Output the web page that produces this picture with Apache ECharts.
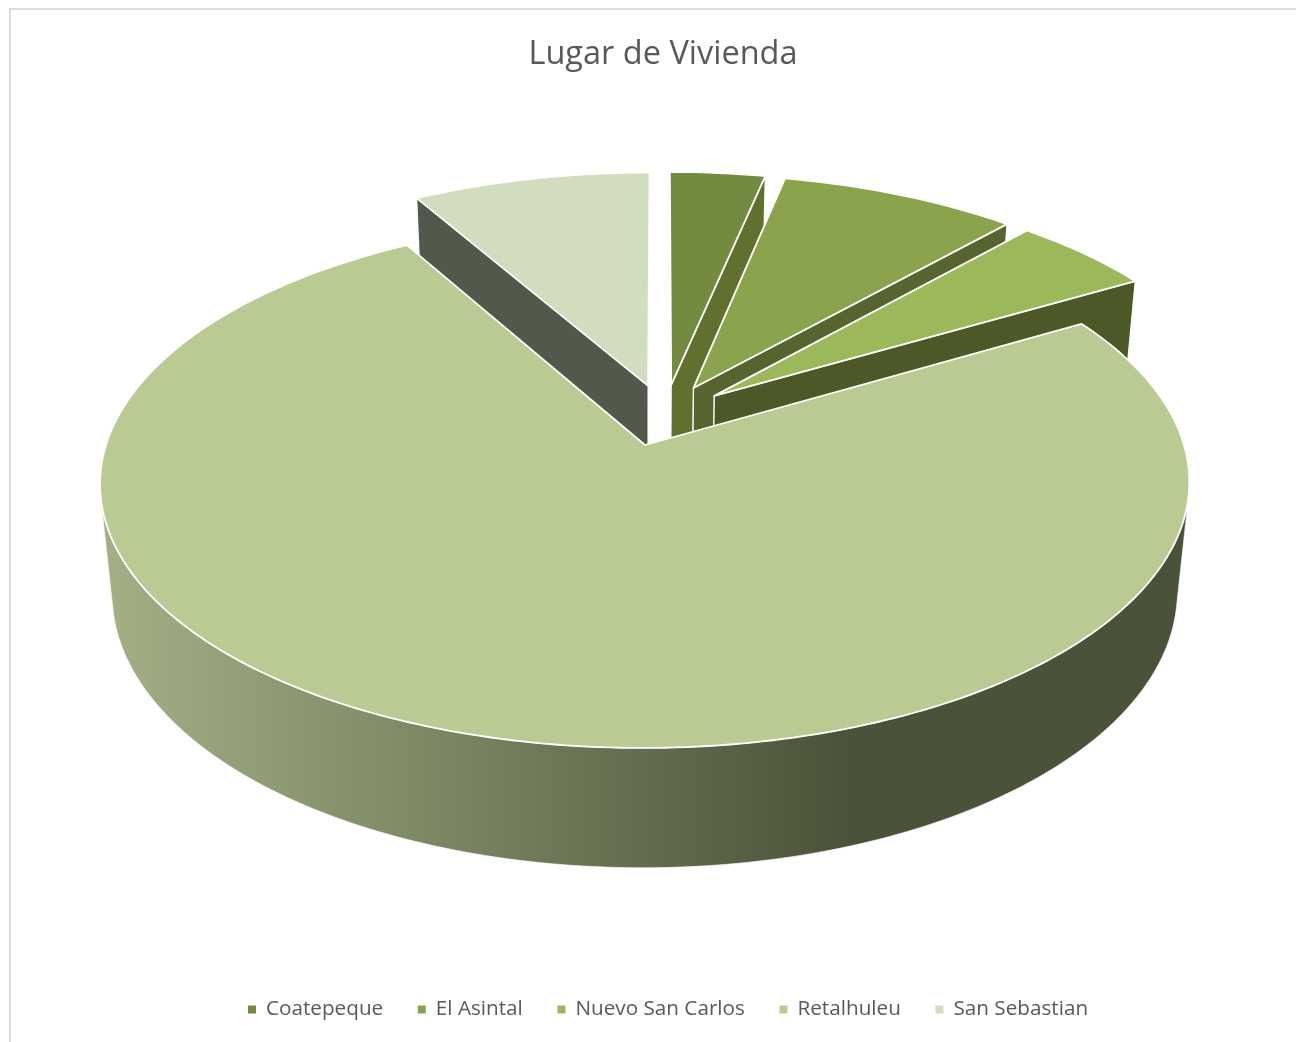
<!DOCTYPE html>
<html>
<head>
<meta charset="utf-8">
<style>html,body{margin:0;padding:0;background:#fff}#c{width:1296px;height:1042px}</style>
<script src="https://cdn.jsdelivr.net/npm/echarts@6/dist/echarts.min.js"></script>
</head>
<body>
<div id="c"></div>
<script>
const titleText = 'Lugar de Vivienda';
const categories = ['Coatepeque', 'El Asintal', 'Nuevo San Carlos', 'Retalhuleu', 'San Sebastian'];
const values = [4, 10, 6, 90, 10];
const topColors = ['#738b40', '#8aa44d', '#9bb95a', '#b9ca93', '#d2dcbe'];
const wallColors = ['#5f702f', '#56652f', '#4d5829', '#4a5239', '#52584a'];
const drawOrder = [3, 4, 5, 6, 2];

// Camera of the 3D pie (perspective projection of the pie's unit disc)
const cx = 645, cy = 445, Rx = 539, Ry = 259.5, kz = 0.1434, md = 0.0222, D = 112, shear = 0.004;
const explode = 0.122, smallSliceShift = 0.005;
const total = values.reduce((a, b) => a + b, 0);
const toRad = Math.PI / 180;

function project(x, z, d) {
  const w = 1 + kz * z + md * d;
  return [cx + Rx * (x + shear * z) / w, cy + (-Ry * z + D * d) / w];
}
// Explosion is measured from the pie's true centre; the largest slice's tip sits at (cx, cy)
const bigIdx = values.indexOf(Math.max(...values));
function midAngle(i) {
  let s = 0;
  for (let j = 0; j < i; j++) s += values[j];
  return (s + values[i] / 2) / total * 360;
}
const c0x = -explode * Math.sin(midAngle(bigIdx) * toRad);
const c0z = -explode * Math.cos(midAngle(bigIdx) * toRad);

function quadArea(q) {
  let s = 0;
  for (let i = 0; i < 4; i++) {
    const a = q[i], b = q[(i + 1) % 4];
    s += a[0] * b[1] - b[0] * a[1];
  }
  return s / 2;
}

function renderSlice(i, value) {
  let before = 0;
  for (let j = 0; j < i; j++) before += values[j];
  const a0 = before / total * 360;
  const a1 = (before + value) / total * 360;
  const mid = (a0 + a1) / 2;
  const ox = c0x + explode * Math.sin(mid * toRad) + (i === bigIdx ? 0 : smallSliceShift);
  const oz = c0z + explode * Math.cos(mid * toRad);
  const arc = (d) => {
    const pts = [];
    const n = Math.max(2, Math.ceil(a1 - a0));
    for (let t = 0; t <= n; t++) {
      const a = (a0 + (a1 - a0) * t / n) * toRad;
      pts.push(project(ox + Math.sin(a), oz + Math.cos(a), d));
    }
    return pts;
  };
  const topArc = arc(0), lowArc = arc(1);
  const apexTop = project(ox, oz, 0), apexLow = project(ox, oz, 1);
  const poly = (points, fill, lw) => ({
    type: 'polygon',
    shape: { points: points },
    style: { fill: fill, stroke: '#ffffff', lineWidth: lw, lineJoin: 'round' },
    silent: true
  });
  const wall = wallColors[i];
  const children = [];
  const sideFill = i === bigIdx
    ? new echarts.graphic.LinearGradient(112, 0, 850, 0, [
        { offset: 0, color: '#a2af85' },
        { offset: 1, color: '#4a5239' }
      ], true)
    : wall;
  // Outer wall: only the run of the rim that faces the viewer
  let first = -1, last = -1;
  for (let t = 0; t < topArc.length - 1; t++) {
    if (quadArea([topArc[t], topArc[t + 1], lowArc[t + 1], lowArc[t]]) < 0) {
      if (first < 0) first = t;
      last = t + 1;
    }
  }
  if (first >= 0) {
    children.push(poly(topArc.slice(first, last + 1).concat(lowArc.slice(first, last + 1).reverse()), sideFill, 0.6));
  }
  if (i !== bigIdx) {
    const startWall = poly([apexTop, topArc[0], lowArc[0], apexLow], wall, 1.2);
    const endWall = poly([apexTop, topArc[topArc.length - 1], lowArc[lowArc.length - 1], apexLow], wall, 1.2);
    if (mid < 180) children.push(startWall, endWall); else children.push(endWall, startWall);
  }
  children.push(poly([apexTop].concat(topArc), topColors[i], 1.8));
  return { type: 'group', children: children };
}

const chart = echarts.init(document.getElementById('c'), null, { renderer: 'canvas', width: 1296, height: 1042 });
chart.setOption({
  animation: false,
  backgroundColor: '#ffffff',
  title: {
    text: titleText,
    left: 658,
    top: 33,
    textAlign: 'center',
    textStyle: { fontFamily: '"Open Sans"', fontSize: 32.5, fontWeight: 'normal', color: '#595959' }
  },
  legend: {
    bottom: 17,
    left: 243,
    icon: 'rect',
    itemWidth: 8,
    itemHeight: 8,
    itemGap: 34.6,
    selectedMode: false,
    data: categories,
    textStyle: { fontFamily: '"Open Sans"', fontSize: 20.7, color: '#595959', padding: [0, 0, 0, 5] }
  },
  graphic: [{
    type: 'rect',
    silent: true,
    shape: { x: 10, y: 9, width: 2000, height: 2000 },
    style: { fill: 'none', stroke: '#dcdcdc', lineWidth: 2 }
  }],
  series: categories.map((name, i) => ({
    type: 'custom',
    name: name,
    coordinateSystem: 'none',
    z: drawOrder[i],
    silent: true,
    itemStyle: { color: topColors[i] },
    data: [[values[i]]],
    renderItem: (params, api) => renderSlice(i, api.value(0))
  }))
});
</script>
</body>
</html>
